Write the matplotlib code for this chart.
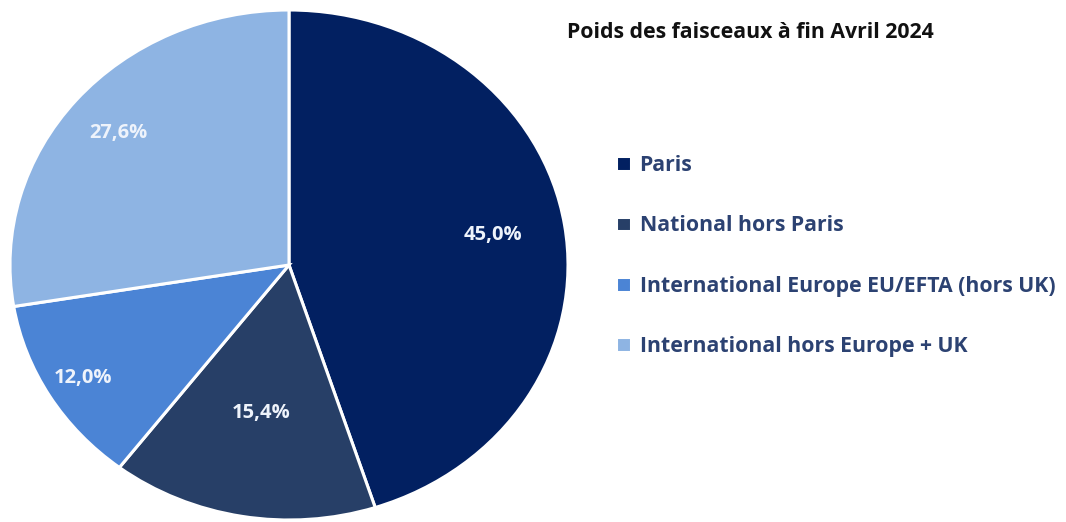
import matplotlib
matplotlib.use("Agg")
import matplotlib.pyplot as plt
import numpy as np

plt.rcParams['font.family'] = ['Open Sans', 'DejaVu Sans']

# Poids des faisceaux (%)
labels = ["Paris", "National hors Paris",
          "International Europe EU/EFTA (hors UK)",
          "International hors Europe + UK"]
values = [45.0, 15.4, 12.0, 27.6]
colors = ["#022061", "#273f67", "#4b84d5", "#8eb4e3"]
# distance of each percentage label from the centre (fraction of radius)
label_dist = [0.74, 0.59, 0.86, 0.80]

fig = plt.figure(figsize=(10.66, 5.22), dpi=100)
ax = fig.add_axes([10/1066, 2/522, 558/1066, 510/522])

wedges, _ = ax.pie(values, colors=colors, startangle=90, counterclock=False,
                   wedgeprops=dict(edgecolor="white", linewidth=2.2))
for w in wedges:
    w.set_clip_on(False)
# the reference pie is slightly stretched horizontally
ax.set_aspect("auto")
ax.set_xlim(-1, 1)
ax.set_ylim(-1, 1)

for w, v, d in zip(wedges, values, label_dist):
    ang = np.deg2rad((w.theta1 + w.theta2) / 2)
    ax.text(d*np.cos(ang), d*np.sin(ang), "{:.1f}%".format(v).replace(".", ","),
            ha="center", va="center", color="#eef3fb", fontsize=14.5, fontweight="bold")

fig.text(567/1066, 1 - 32/522, "Poids des faisceaux à fin Avril 2024",
         ha="left", va="center", fontsize=15.3, fontweight="bold", color="#111111")

leg = fig.legend(wedges, labels, loc="upper left", bbox_to_anchor=(597/1066, 1 - 136/522),
                 frameon=False, handlelength=0.7, handleheight=0.7, handletextpad=0.4,
                 labelspacing=1.85, prop=dict(size=15.3, weight="bold"), labelcolor="#2c4272")

fig.savefig("out.png", dpi=100)
